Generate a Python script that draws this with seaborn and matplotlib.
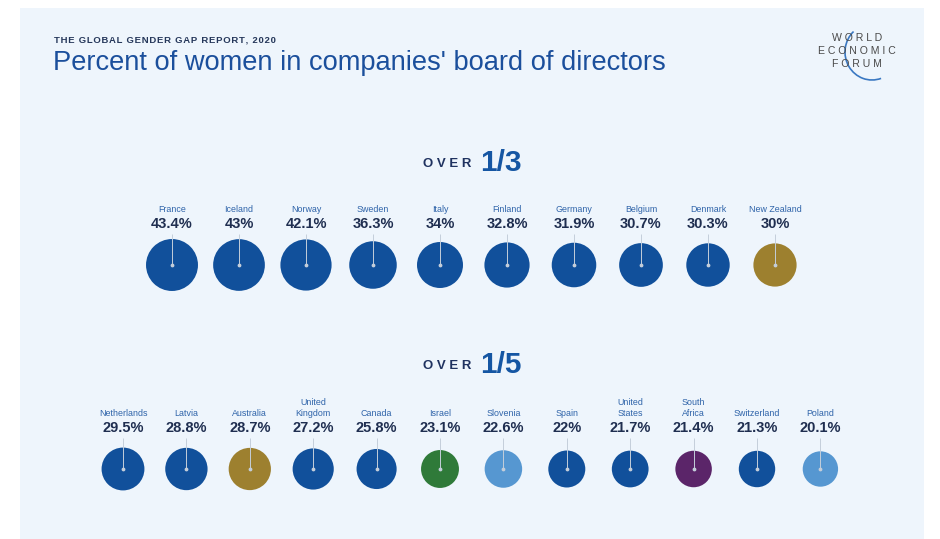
import numpy as np
import pandas as pd
import matplotlib.pyplot as plt
import seaborn as sns
from matplotlib.patches import Rectangle, Arc


# =========================================================
# DATA
# =========================================================

top_countries = [
    "France", "Iceland", "Norway", "Sweden", "Italy",
    "Finland", "Germany", "Belgium", "Denmark", "New Zealand",
]
top_values = [43.4, 43, 42.1, 36.3, 34, 32.8, 31.9, 30.7, 30.3, 30]
top_regions = [
    "Western Europe", "Western Europe", "Western Europe", "Western Europe",
    "Western Europe", "Western Europe", "Western Europe", "Western Europe",
    "Western Europe", "East Asia and the Pacific",
]

bottom_countries = [
    "Netherlands", "Latvia", "Australia", "United\nKingdom", "Canada",
    "Israel", "Slovenia", "Spain", "United\nStates", "South\nAfrica",
    "Switzerland", "Poland",
]
bottom_values = [29.5, 28.8, 28.7, 27.2, 25.8, 23.1, 22.6, 22, 21.7, 21.4, 21.3, 20.1]
bottom_regions = [
    "Western Europe", "Western Europe", "East Asia and the Pacific",
    "Western Europe", "North America", "Middle East and North Africa",
    "Eastern Europe and Central Asia", "Western Europe", "North America",
    "Sub-Saharan Africa", "Western Europe", "Eastern Europe and Central Asia",
]

REGION_COLORS = {
    "Western Europe": "#11509b",
    "North America": "#11509b",
    "East Asia and the Pacific": "#9d802f",
    "Middle East and North Africa": "#2f7a39",
    "Eastern Europe and Central Asia": "#5697d1",
    "Sub-Saharan Africa": "#5b2569",
}

MAX_VALUE = 43.4
MAX_SIZE = 1400

FONT = "Liberation Sans"
NAME_COLOR = "#2e63a9"
VALUE_COLOR = "#1f2e50"
TITLE_COLOR = "#1b4f9c"
BG_COLOR = "#eef5fc"


# =========================================================
# FIGURE
# =========================================================

sns.set_style("white")
plt.rcParams["font.family"] = [FONT, "DejaVu Sans"]

W, H = 940, 539
fig = plt.figure(figsize=(W / 100, H / 100), dpi=100)
fig.patch.set_facecolor("white")

# decoration layer in pixel coordinates
deco = fig.add_axes([0, 0, 1, 1])
deco.set_xlim(0, W)
deco.set_ylim(H, 0)
deco.axis("off")

deco.add_patch(Rectangle((20, 8), 904, 540, facecolor=BG_COLOR, edgecolor="none"))

subtitle = "\u200a".join("THE GLOBAL GENDER GAP REPORT, 2020")
deco.text(54, 40, subtitle, fontsize=6.8, fontweight="bold",
          color="#25375a", va="center", ha="left")
deco.text(53, 63, "Percent of women in companies' board of directors",
          fontsize=19.6, color=TITLE_COLOR, va="center", ha="left")

# logo
for txt, y in [("W O R L D", 38), ("E C O N O M I C", 51), ("F O R U M", 64)]:
    deco.text(857, y, txt, fontsize=7.6, color="#4a4a4a", va="center", ha="center")
deco.add_patch(Arc((872, 52), 54, 56, theta1=71, theta2=228,
                   color="#3a78c2", lw=1.2))

# section headers
for y, frac in [(163, "1/3"), (365, "1/5")]:
    deco.text(471, y + 1, "O V E R", fontsize=9.5, fontweight="bold",
              color="#1f3260", va="center", ha="right")
    deco.text(480, y, frac, fontsize=21.5, fontweight="bold",
              color="#1556a3", va="center", ha="left")


# =========================================================
# ROWS OF BUBBLES
# =========================================================

def draw_row(countries, values, regions, first_x, step, center_y):

    n = len(countries)
    left = first_x - step / 2
    width = step * n
    top_px, bottom_px = center_y - 80, center_y + 36

    ax = fig.add_axes([
        left / W,
        (H - bottom_px) / H,
        width / W,
        (bottom_px - top_px) / H,
    ])
    ax.patch.set_alpha(0)

    df = pd.DataFrame({
        "pos": np.arange(n),
        "zero": np.zeros(n),
        "value": values,
        "region": regions,
    })

    sns.scatterplot(
        data=df,
        x="pos",
        y="zero",
        hue="region",
        palette=REGION_COLORS,
        size="value",
        sizes=(0, MAX_SIZE),
        size_norm=(0, MAX_VALUE),
        linewidth=0,
        legend=False,
        ax=ax,
        zorder=2,
    )

    ax.vlines(df["pos"], 0, 31, color="#c4ceda", lw=0.7, zorder=3)
    ax.scatter(df["pos"], df["zero"], s=3, color="#c4ceda", zorder=4)

    for i, (name, val) in enumerate(zip(countries, values)):
        ax.text(i, 51, name, fontsize=6.4, color=NAME_COLOR,
                ha="center", va="bottom", linespacing=1.25)
        ax.text(i, 41, f"{val:g}%", fontsize=10.5, fontweight="bold",
                color=VALUE_COLOR, ha="center", va="center")

    ax.set_xlim(-0.5, n - 0.5)
    ax.set_ylim(-36, 80)
    ax.axis("off")


draw_row(top_countries, top_values, top_regions, 172, 67, 265)
draw_row(bottom_countries, bottom_values, bottom_regions, 123, 63.4, 469)

plt.savefig("out.png", dpi=100)
plt.close()
